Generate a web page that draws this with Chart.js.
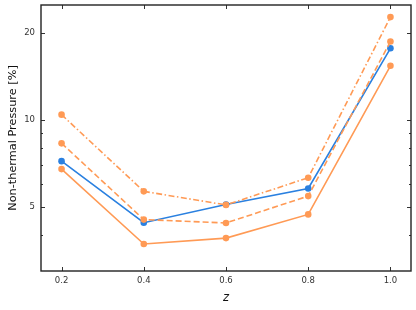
<!DOCTYPE html>
<html>
<head>
<meta charset="utf-8">
<script src="https://cdn.jsdelivr.net/npm/chart.js@4.4.1/dist/chart.umd.min.js"></script>
<style>
  html, body { margin: 0; padding: 0; background: #fff; }
  #wrap { width: 416px; height: 310px; }
</style>
</head>
<body>
<div id="wrap"><canvas id="chart" width="416" height="310"></canvas></div>
<script>
// redshift bins
const redshifts = [0.2, 0.4, 0.6, 0.8, 1.0];
// non-thermal pressure fraction [%] per model
const blueSolid = [7.2, 4.41, 5.1, 5.79, 17.7];
const orangeSolid = [6.76, 3.72, 3.9, 4.71, 15.4];
const orangeDashed = [8.3, 4.52, 4.4, 5.45, 18.7];
const orangeDashDot = [10.43, 5.66, 5.08, 6.31, 22.7];
// tick values
const xTicks = [0.2, 0.4, 0.6, 0.8, 1.0];
const yMajor = [5, 10, 20];
const yMinor = [4, 6, 7, 8, 9];

const BLUE = '#2a80e0';
const ORANGE = '#ff9a55';
const FONT = 'DejaVu Sans';

function series(vals, color, dash) {
	return {
		data: vals.map(function(v, i) { return {x: redshifts[i], y: v}; }),
		borderColor: color,
		backgroundColor: color,
		borderWidth: 1.6,
		borderDash: dash,
		pointRadius: 3.3,
		pointBorderWidth: 0,
		pointHoverRadius: 3.3,
		tension: 0
	};
}

// frame + inward ticks on all four sides (matplotlib look)
const framePlugin = {
	id: 'frame',
	afterDraw: function(chart) {
		const ctx = chart.ctx;
		const a = chart.chartArea;
		const xs = chart.scales.x;
		const ys = chart.scales.y;
		ctx.save();
		ctx.strokeStyle = '#333';
		ctx.lineWidth = 1;
		xTicks.forEach(function(v) {
			const px = Math.round(xs.getPixelForValue(v)) + 0.5;
			ctx.beginPath();
			ctx.moveTo(px, a.bottom); ctx.lineTo(px, a.bottom - 4);
			ctx.moveTo(px, a.top); ctx.lineTo(px, a.top + 4);
			ctx.stroke();
		});
		yMajor.concat(yMinor).forEach(function(v) {
			const len = yMajor.indexOf(v) >= 0 ? 4 : 2;
			const py = Math.round(ys.getPixelForValue(v)) + 0.5;
			ctx.beginPath();
			ctx.moveTo(a.left, py); ctx.lineTo(a.left + len, py);
			ctx.moveTo(a.right, py); ctx.lineTo(a.right - len, py);
			ctx.stroke();
		});
		ctx.lineWidth = 1.4;
		ctx.strokeStyle = '#222';
		ctx.strokeRect(a.left, a.top, a.right - a.left, a.bottom - a.top);
		ctx.restore();
	}
};

const ctx = document.getElementById('chart');
new Chart(ctx, {
	type: 'line',
	data: {
		datasets: [
			series(orangeDashDot, ORANGE, [6, 2.5, 1.5, 2.5]),
			series(orangeDashed, ORANGE, [6, 3]),
			series(orangeSolid, ORANGE, []),
			series(blueSolid, BLUE, [])
		]
	},
	options: {
		responsive: false,
		animation: false,
		layout: { padding: { left: 0, right: 5, top: 5, bottom: 0 } },
		plugins: { legend: { display: false }, tooltip: { enabled: false } },
		scales: {
			x: {
				type: 'linear',
				min: 0.15,
				max: 1.05,
				afterBuildTicks: function(scale) {
					scale.ticks = xTicks.map(function(v) { return {value: v}; });
				},
				afterFit: function(scale) {
					scale.height = 39;
					scale.paddingLeft = 0;
					scale.paddingRight = 0;
				},
				grid: { display: false, drawTicks: false },
				border: { display: false },
				ticks: {
					padding: 5,
					color: '#333',
					font: { family: FONT, size: 8.5 },
					callback: function(v) { return v.toFixed(1); }
				},
				title: {
					display: true,
					text: 'z',
					color: '#111',
					font: { family: FONT, size: 11.5, style: 'italic' },
					padding: { top: 0, bottom: 5 }
				}
			},
			y: {
				type: 'logarithmic',
				min: 3,
				max: 25,
				afterBuildTicks: function(scale) {
					scale.ticks = yMajor.map(function(v) { return {value: v}; });
				},
				afterFit: function(scale) {
					scale.width = 41;
					scale.paddingTop = 0;
					scale.paddingBottom = 0;
				},
				grid: { display: false, drawTicks: false },
				border: { display: false },
				ticks: {
					padding: 6,
					color: '#333',
					font: { family: FONT, size: 8.5 },
					callback: function(v) { return String(v); }
				},
				title: {
					display: true,
					text: 'Non-thermal Pressure [%]',
					color: '#111',
					font: { family: FONT, size: 11.3 },
					padding: { top: 6, bottom: 0 }
				}
			}
		}
	},
	plugins: [framePlugin]
});
</script>
</body>
</html>
